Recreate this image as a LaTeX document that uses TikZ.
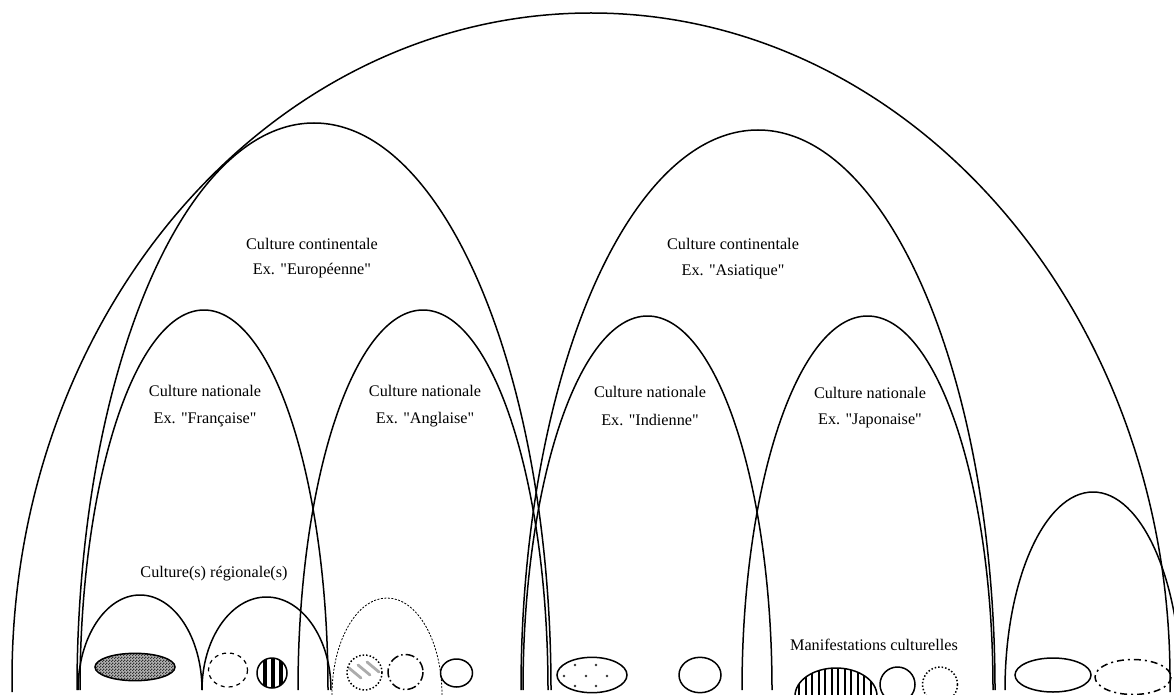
\documentclass[tikz,border=0pt]{standalone}
\usepackage{fontspec}
\setmainfont{Liberation Serif}[Ligatures=TeXOff]
\usetikzlibrary{patterns}
\pgfdeclarepatternformonly{finechecker}{\pgfqpoint{0pt}{0pt}}{\pgfqpoint{3pt}{3pt}}{\pgfqpoint{3pt}{3pt}}{%
  \pgfpathrectangle{\pgfpointorigin}{\pgfqpoint{1.5pt}{1.5pt}}%
  \pgfpathrectangle{\pgfqpoint{1.5pt}{1.5pt}}{\pgfqpoint{1.5pt}{1.5pt}}%
  \pgfusepath{fill}}
\begin{document}
\begin{tikzpicture}[x=1pt,y=-1pt,
  arch/.style={line width=1.5pt},
  lbl/.style={font=\fontsize{16.2}{18}\selectfont, inner sep=0pt, anchor=center},
  shp/.style={line width=1.5pt}]
\useasboundingbox (0,0) rectangle (1174,695);
\clip (0,0) rectangle (1174,695);
% big arch
\draw[arch] (12,692) -- (12,679) arc[start angle=180,end angle=360,x radius=579,y radius=666] -- (1170,692);
% continental arches
\draw[arch] (77,690) arc[start angle=180,end angle=360,x radius=237,y radius=567];
\draw[arch] (521,690) arc[start angle=180,end angle=360,x radius=237,y radius=560];
% national arches
\draw[arch] (80,690) arc[start angle=180,end angle=360,x radius=124,y radius=380];
\draw[arch] (298,690) arc[start angle=180,end angle=360,x radius=125,y radius=380];
\draw[arch] (523,690) arc[start angle=180,end angle=360,x radius=124.5,y radius=374];
\draw[arch] (742,690) arc[start angle=180,end angle=360,x radius=125.5,y radius=374];
% small right arch
\draw[arch] (1005,690) arc[start angle=180,end angle=360,x radius=88,y radius=198];
% regional arches
\draw[arch] (78,690) arc[start angle=180,end angle=360,x radius=62,y radius=95];
\draw[arch] (202,690) arc[start angle=180,end angle=360,x radius=64.5,y radius=93];
\draw[line width=0.8pt, dash pattern=on 2pt off 1.5pt] (332,695) arc[start angle=180,end angle=360,x radius=55,y radius=97];
% labels
\node[lbl] (ce1) at (312,244) {Culture continentale};
\node[lbl] (ce2) at (312,271) {Ex. "Européenne"};
\node[lbl] (ca1) at (733,244) {Culture continentale};
\node[lbl] (ca2) at (733,272) {Ex. "Asiatique"};
\node[lbl] (nf1) at (205,391) {Culture nationale};
\node[lbl] (nf2) at (205,420) {Ex. "Française"};
\node[lbl] (na1) at (425,391) {Culture nationale};
\node[lbl] (na2) at (425,420) {Ex. "Anglaise"};
\node[lbl] (ni1) at (650,392) {Culture nationale};
\node[lbl] (ni2) at (650,420) {Ex. "Indienne"};
\node[lbl] (nj1) at (870,393) {Culture nationale};
\node[lbl] (nj2) at (870,421) {Ex. "Japonaise"};
\node[lbl] (reg) at (214,574) {Culture(s) régionale(s)};
\node[lbl] (man) at (874,645) {Manifestations culturelles};
% shapes
\fill[gray!60] (135,667) ellipse[x radius=40, y radius=13.7];
\fill[pattern=finechecker, pattern color=gray!40!black] (135,667) ellipse[x radius=40, y radius=13.7];
\draw[shp] (135,667) ellipse[x radius=40, y radius=13.7];
\draw[line width=1.2pt, dash pattern=on 4pt off 4pt] (228,670) ellipse[x radius=19.5, y radius=17];
\begin{scope}
  \clip (272,673) circle[radius=15];
  \foreach \x in {264.5,272.5,280.5} \draw[line width=4pt] (\x,650) -- (\x,695);
\end{scope}
\draw[shp] (272,673) circle[radius=15];
\begin{scope}
  \clip (364.5,672.5) circle[radius=17.5];
  \foreach \c/\d in {355/673,364/670,373/667} \draw[gray!65, line width=2.8pt, line cap=round] (\c-6,\d-5) -- (\c+6,\d+5);
\end{scope}
\draw[line width=1.5pt, dotted] (364.5,672.5) circle[radius=17.5];
\draw[line width=1.5pt, dash pattern=on 9pt off 3pt on 1.5pt off 3pt] (405.5,672) circle[radius=17.5];
\draw[shp] (456.5,673) ellipse[x radius=16, y radius=14];
\draw[shp] (592,675) ellipse[x radius=35, y radius=17.7];
\foreach \p in {(575,665),(596,665),(564,676),(586,676),(607,676),(575,686),(596,686)}
  \fill[gray!40!black] \p circle[radius=1.3];
\draw[shp] (700,675) ellipse[x radius=21, y radius=17.7];
\begin{scope}
  \clip (836,696) ellipse[x radius=41, y radius=28];
  \foreach \k in {0,...,12} \draw[line width=2pt] (799+6.5*\k,660) -- (799+6.5*\k,700);
\end{scope}
\draw[shp] (836,696) ellipse[x radius=41, y radius=28];
\draw[shp] (897.5,684.5) circle[radius=17.5];
\draw[line width=1.5pt, dotted] (940,684.5) circle[radius=17.5];
\draw[shp] (1053,675) ellipse[x radius=38, y radius=17];
\draw[line width=1.5pt, dash pattern=on 7pt off 4pt on 2pt off 4pt] (1133,677) ellipse[x radius=38, y radius=17.5];
\end{tikzpicture}
\end{document}
